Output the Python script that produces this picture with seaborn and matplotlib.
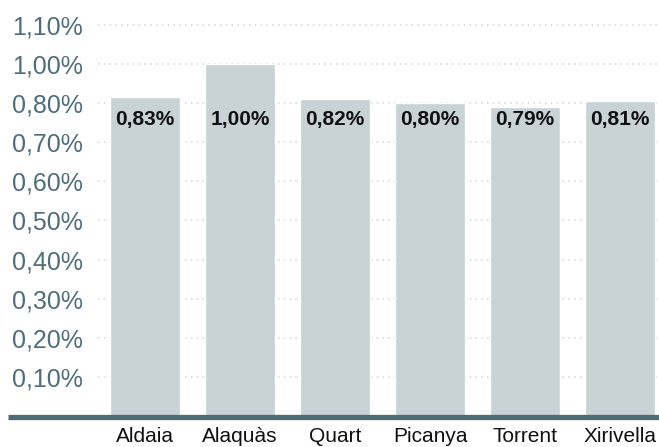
import matplotlib
matplotlib.use('Agg')
import matplotlib.pyplot as plt
from matplotlib.lines import Line2D
import matplotlib.transforms as mtransforms
import numpy as np
import seaborn as sns

sns.set_style('white')
plt.rcParams['font.family'] = ['Liberation Sans', 'DejaVu Sans']

towns = ['Aldaia', 'Alaquàs', 'Quart', 'Picanya', 'Torrent', 'Xirivella']
values = [0.83, 1.00, 0.82, 0.80, 0.79, 0.81]
ytick_values = [0.10, 0.20, 0.30, 0.40, 0.50, 0.60, 0.70, 0.80, 1.00, 1.10]

def pct(v):
    return f'{v:.2f}%'.replace('.', ',')

# the axis puts its ticks at equal steps, so the scale is piecewise linear between them
knots_v = np.array([-0.1, 0.0] + ytick_values + [1.2])
knots_i = np.arange(len(knots_v)) - 1.0

def fwd(v):
    return np.interp(v, knots_v, knots_i)

def inv(i):
    return np.interp(i, knots_i, knots_v)

W, H = 659, 447
fig = plt.figure(figsize=(W / 100, H / 100), dpi=100)
step = 39.1
zero_px = 416
top_idx = 10.5
ax = fig.add_axes([97.5 / W, (H - zero_px) / H, 570 / W, top_idx * step / H])

bar_color = '#c9d2d5'
slate = '#4f6e7a'

sns.barplot(x=towns, y=values, color=bar_color, saturation=1, width=0.737, ax=ax, zorder=2)
ax.set_yscale('function', functions=(fwd, inv))
ax.set_xlim(-0.5, 5.5)
ax.set_ylim(0, inv(top_idx))

ax.set_yticks(ytick_values)
ax.set_yticklabels([pct(v) for v in ytick_values])
ax.yaxis.set_minor_locator(matplotlib.ticker.NullLocator())
ax.tick_params(axis='y', length=0, pad=10.5, labelsize=18, labelcolor=slate)
ax.tick_params(axis='x', length=0, pad=8, labelsize=15, labelcolor='#111111')
ax.set_xlabel('')
ax.set_ylabel('')

ax.set_axisbelow(True)
ax.yaxis.grid(True, color='#d4d4d4', linewidth=1.1, linestyle=(0, (1, 2.8)))
ax.xaxis.grid(False)
for s in ax.spines.values():
    s.set_visible(False)

# value labels, all at the same height
trans = mtransforms.blended_transform_factory(ax.transData, ax.transAxes)
label_y = (zero_px - 119) / (top_idx * step)
for i, v in enumerate(values):
    ax.text(i, label_y, pct(v), transform=trans, ha='center', va='center',
            fontsize=15, fontweight='bold', color='#111111', zorder=3)

# thick baseline running under the tick labels too
yb = 1 - 416.7 / H
fig.add_artist(Line2D([8 / W, 1], [yb, yb], transform=fig.transFigure,
                      color='#4b6b77', linewidth=3.8, solid_capstyle='butt', zorder=5))

fig.savefig('out.png', dpi=100)
